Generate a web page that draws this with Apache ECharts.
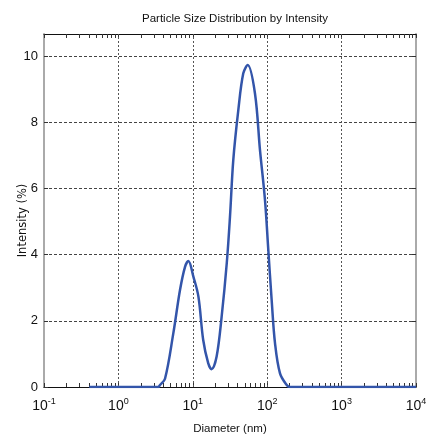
<!DOCTYPE html>
<html><head><meta charset="utf-8">
<script src="https://cdn.jsdelivr.net/npm/echarts@6/dist/echarts.min.js"></script>
<style>html,body{margin:0;padding:0;background:#fff}#c{width:427px;height:440px}</style>
</head><body><div id="c"></div>
<script>
// Diameter (nm) and intensity (%)
const diameters = [0.406, 3.41, 3.62, 4.23, 5.47, 6.73, 7.86, 8.71, 10.2, 11.9, 13.8, 16.1, 17.9, 20.9, 24.4, 28.6, 31.6, 35.0, 40.9, 47.7, 54.7, 68.5, 80.0, 93.4, 103.5, 114.8, 127.4, 148.6, 182.8, 202, 10000];
const intensities = [0, 0, 0.06, 0.25, 1.62, 2.93, 3.63, 3.81, 3.33, 2.73, 1.42, 0.72, 0.54, 0.92, 2.12, 3.74, 5.14, 6.86, 8.37, 9.48, 9.73, 8.87, 7.16, 5.65, 4.14, 2.63, 1.32, 0.41, 0.06, 0, 0];
const xMajorTicks = [0.1, 1, 10, 100, 1000, 10000];
const xGridValues = [1, 10, 100, 1000];
const yTicks = [0, 2, 4, 6, 8, 10];
const titleText = 'Particle Size Distribution by Intensity';
const xName = 'Diameter (nm)';
const yName = 'Intensity (%)';

const minorTicks = [];
for (let e = -1; e < 4; e++) for (let m = 1; m <= 9; m++) minorTicks.push(m * Math.pow(10, e));
minorTicks.push(10000);

const data = diameters.map((d, i) => [d, intensities[i]]);
const narrow = '"Liberation Sans Narrow", "Liberation Sans", Arial, sans-serif';

const chart = echarts.init(document.getElementById('c'));
chart.setOption({
  animation: false,
  title: {text: titleText, left: 230, top: 8, textAlign: 'center',
    textStyle: {fontFamily: narrow, fontSize: 11.5, fontWeight: 'normal', color: '#111'}},
  grid: {left: 44, right: 11, top: 34, bottom: 53, containLabel: false, outerBoundsMode: 'none'},
  xAxis: [{
    type: 'log', logBase: 10, min: 0.1, max: 10000, position: 'bottom',
    name: xName, nameLocation: 'middle', nameGap: 36,
    nameTextStyle: {fontFamily: narrow, fontSize: 11.5, color: '#111'},
    axisLine: {show: true, lineStyle: {color: '#111', width: 1}},
    axisTick: {show: true, inside: true, length: 4, customValues: minorTicks, lineStyle: {color: '#333'}},
    axisLabel: {customValues: xMajorTicks, margin: 10, fontFamily: narrow, fontSize: 14, color: '#111',
      formatter: v => '10{s|' + Math.round(Math.log10(v)) + '}',
      rich: {s: {fontFamily: narrow, fontSize: 9, verticalAlign: 'top', padding: [0, 0, 10, 0], color: '#111'}}},
    splitLine: {show: false}
  }, {
    type: 'log', logBase: 10, min: 0.1, max: 10000, position: 'top',
    axisLine: {show: true, onZero: false, lineStyle: {color: '#111', width: 1}},
    axisTick: {show: true, inside: true, length: 4, customValues: minorTicks, lineStyle: {color: '#333'}},
    axisLabel: {show: false}, splitLine: {show: false}
  }],
  yAxis: [{
    type: 'value', min: 0, max: 10.67, interval: 2, position: 'left',
    name: yName, nameLocation: 'middle', nameGap: 15, nameRotate: 90, nameMoveOverlap: false,
    nameTextStyle: {fontFamily: '"DejaVu Sans", Verdana, sans-serif', fontSize: 11.5, color: '#111', padding: [0, 20, 0, 0]},
    axisLine: {show: true, lineStyle: {color: '#aaa', width: 2}},
    axisTick: {show: true, inside: true, length: 4, customValues: yTicks, lineStyle: {color: '#333'}},
    axisLabel: {customValues: yTicks, margin: 6, fontFamily: narrow, fontSize: 13, color: '#111'},
    splitLine: {show: true, lineStyle: {color: '#444', type: [3, 2], width: 1}}
  }, {
    type: 'value', min: 0, max: 10.67, interval: 2, position: 'right',
    axisLine: {show: true, lineStyle: {color: '#aaa', width: 2}},
    axisTick: {show: true, inside: true, length: 4, customValues: yTicks, lineStyle: {color: '#333'}},
    axisLabel: {show: false}, splitLine: {show: false}
  }],
  series: [{
    type: 'line', data: data, xAxisIndex: 0, yAxisIndex: 0,
    smooth: 0.35, showSymbol: false, z: 3,
    lineStyle: {color: '#3355aa', width: 2.5},
    markLine: {
      silent: true, symbol: ['none', 'none'], z: 1,
      label: {show: false},
      lineStyle: {color: '#555', type: [2, 2], width: 1},
      data: xGridValues.map(v => ({xAxis: v}))
    }
  }]
});
</script></body></html>
